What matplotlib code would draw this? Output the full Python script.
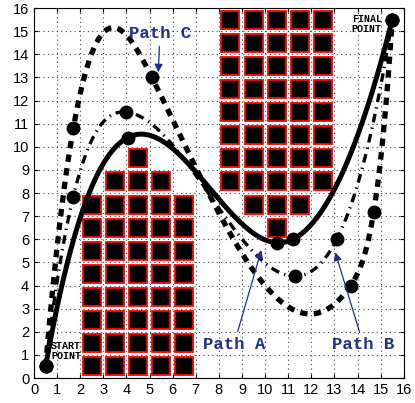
import numpy as np
import matplotlib.pyplot as plt
import matplotlib.patches as patches

# obstacle cells (lower-left corner of each unit cell)
left_cols = [2, 3, 4, 5, 6]
left_rows = [0, 1, 2, 3, 4, 5, 6, 7]
left_extra_x = [3, 4, 5, 4]
left_extra_y = [8, 8, 8, 9]
right_cols = [8, 9, 10, 11, 12]
right_rows = [8, 9, 10, 11, 12, 13, 14, 15]
right_extra_x = [9, 10, 11, 10]
right_extra_y = [7, 7, 7, 6]

# waypoints of the three paths
path_a_x = [0.5, 4.05, 10.5, 11.2, 15.5]
path_a_y = [0.5, 10.4, 5.85, 6.0, 15.5]
path_b_x = [0.5, 1.7, 4.0, 11.3, 13.1, 15.5]
path_b_y = [0.5, 7.85, 11.5, 4.4, 6.0, 15.5]
path_c_x = [0.5, 1.7, 5.1, 13.7, 14.7, 15.5]
path_c_y = [0.5, 10.8, 13.0, 4.0, 7.2, 15.5]

ticks = list(range(0, 17))


def spline(xk, yk, xs):
    # cubic spline, not-a-knot ends
    xk = np.asarray(xk, float)
    yk = np.asarray(yk, float)
    n = len(xk)
    h = np.diff(xk)
    A = np.zeros((n, n))
    r = np.zeros(n)
    A[0, 0], A[0, 1], A[0, 2] = h[1], -(h[0] + h[1]), h[0]
    A[-1, -3], A[-1, -2], A[-1, -1] = h[-1], -(h[-2] + h[-1]), h[-2]
    for i in range(1, n - 1):
        A[i, i - 1] = h[i - 1]
        A[i, i] = 2 * (h[i - 1] + h[i])
        A[i, i + 1] = h[i]
        r[i] = 6 * ((yk[i + 1] - yk[i]) / h[i] - (yk[i] - yk[i - 1]) / h[i - 1])
    M = np.linalg.solve(A, r)
    idx = np.clip(np.searchsorted(xk, xs) - 1, 0, n - 2)
    x0, x1 = xk[idx], xk[idx + 1]
    hh = x1 - x0
    return (M[idx] * (x1 - xs) ** 3 / (6 * hh) + M[idx + 1] * (xs - x0) ** 3 / (6 * hh)
            + (yk[idx] / hh - M[idx] * hh / 6) * (x1 - xs)
            + (yk[idx + 1] / hh - M[idx + 1] * hh / 6) * (xs - x0))


fig = plt.figure(figsize=(4.15, 4.03), dpi=100)
ax = fig.add_axes([0.082, 0.062, 0.891, 0.918])
ax.set_xlim(0, 16)
ax.set_ylim(0, 16)

# obstacles
cells = [(c, r) for r in left_rows for c in left_cols]
cells += list(zip(left_extra_x, left_extra_y))
cells += [(c, r) for r in right_rows for c in right_cols]
cells += list(zip(right_extra_x, right_extra_y))
for cx, cy in cells:
    ax.add_patch(patches.Rectangle((cx + 0.11, cy + 0.11), 0.78, 0.78,
                                   facecolor='black', edgecolor='red', linewidth=1.3, zorder=2))

# paths
xa = np.linspace(path_a_x[0], path_a_x[-1], 400)
ax.plot(xa, spline(path_a_x, path_a_y, xa), color='black', lw=3.6, zorder=4)
ax.plot(path_a_x, path_a_y, 'o', color='black', ms=9, zorder=5)

xb = np.linspace(path_b_x[0], path_b_x[-1], 400)
ax.plot(xb, spline(path_b_x, path_b_y, xb), color='black', lw=2.4,
        linestyle=(0, (2.6, 1.6, 0.4, 1.6)), zorder=4)
ax.plot(path_b_x, path_b_y, 'o', color='black', ms=9, zorder=5)

xc = np.linspace(path_c_x[0], path_c_x[-1], 400)
ax.plot(xc, spline(path_c_x, path_c_y, xc), color='black', lw=3.8,
        linestyle=(0, (1.4, 1.2)), zorder=4)
ax.plot(path_c_x, path_c_y, 'o', color='black', ms=9, zorder=5)

# labels
mono = dict(family='Liberation Mono', fontweight='bold', fontsize=7.2, zorder=6)
ax.text(0.74, 1.15, 'START\nPOINT', ha='left', va='center', linespacing=1.0, **mono)
ax.text(15.05, 15.3, 'FINAL\nPOINT', ha='right', va='center', linespacing=1.0, **mono)

blue = '#1f2f8c'
arr = dict(arrowstyle='-|>', color=blue, lw=0.9, mutation_scale=12)
lab = dict(family='Liberation Mono', fontweight='bold', fontsize=12.5, color=blue, zorder=6)
ax.annotate('Path C', xy=(5.37, 13.1), xytext=(5.45, 14.9), ha='center', va='center',
            arrowprops=arr, **lab)
ax.annotate('Path A', xy=(9.87, 5.65), xytext=(8.65, 1.45), ha='center', va='center',
            arrowprops=arr, **lab)
ax.annotate('Path B', xy=(13.0, 5.55), xytext=(14.25, 1.45), ha='center', va='center',
            arrowprops=arr, **lab)

ax.set_xticks(ticks)
ax.set_yticks(ticks)
ax.tick_params(direction='in', length=3, top=True, right=True, labelsize=10.5)
for lbl in ax.get_xticklabels() + ax.get_yticklabels():
    lbl.set_family('Liberation Sans')
ax.grid(True, linestyle=(0, (1, 3)), color='#444444', lw=0.8)
ax.set_axisbelow(True)

fig.savefig('out.png', dpi=100)
